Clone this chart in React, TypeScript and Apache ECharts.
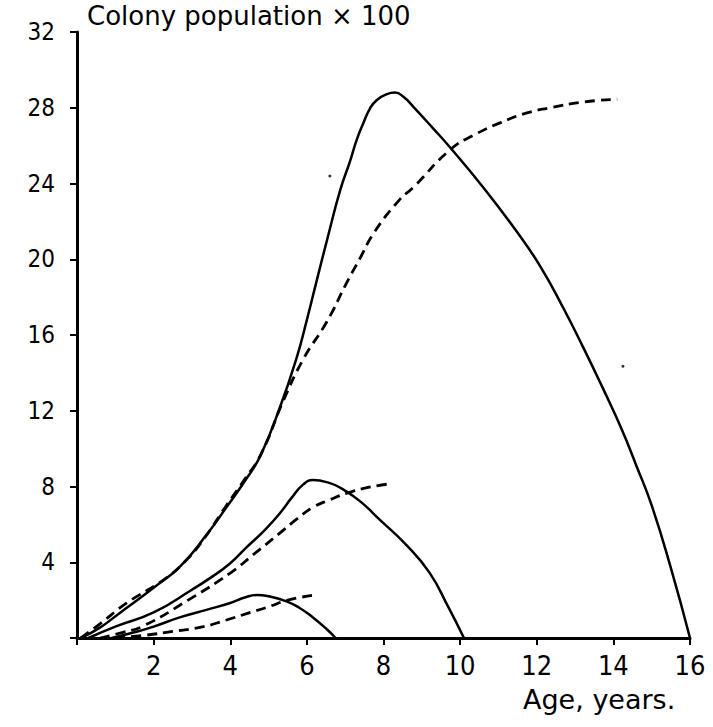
import React, { useEffect, useRef } from "react";
import * as echarts from "echarts";

const xTicks = [0, 2, 4, 6, 8, 10, 12, 14, 16];
const yTicks = [0, 4, 8, 12, 16, 20, 24, 28, 32];

const bigSolid: [number, number][] = [
  [0.1, 0], [0.6, 0.55], [1.1, 1.3], [2.0, 2.65], [2.7, 3.8], [3.4, 5.5], [3.9, 6.9],
  [4.35, 8.2], [4.78, 9.6], [5.3, 12.2], [5.74, 14.85], [6.0, 16.8], [6.26, 18.9],
  [6.55, 21.2], [6.87, 23.65], [7.13, 25.2], [7.3, 26.3], [7.47, 27.17], [7.65, 27.97],
  [7.82, 28.4], [8.09, 28.72], [8.3, 28.8], [8.52, 28.58], [8.78, 28.05], [9.3, 26.9],
  [9.74, 25.9], [10.6, 23.8], [11.5, 21.4], [12.1, 19.6], [12.7, 17.4], [13.2, 15.4],
  [13.7, 13.3], [14.2, 11.1], [14.6, 9.1], [15.0, 7.0], [15.5, 3.7], [16.0, 0],
];

const bigDashed: [number, number][] = [
  [0.1, 0], [0.6, 0.75], [1.3, 1.85], [2.25, 3.06], [2.8, 4.0], [3.3, 5.2], [3.9, 7.0],
  [4.35, 8.3], [4.8, 9.7], [5.38, 12.5], [5.9, 14.7], [6.52, 16.7], [7.05, 18.8],
  [7.4, 20.1], [7.75, 21.4], [8.4, 23.1], [8.78, 23.8], [9.75, 25.8], [10.4, 26.6],
  [11.04, 27.2], [11.7, 27.7], [12.35, 28.0], [13.2, 28.3], [14.1, 28.45],
];

const midSolid: [number, number][] = [
  [0.3, 0], [1.0, 0.6], [2.0, 1.35], [3.0, 2.55], [3.5, 3.2], [4.0, 3.95], [4.43, 4.8],
  [4.9, 5.7], [5.3, 6.6], [5.6, 7.4], [5.9, 8.1], [6.16, 8.34], [6.6, 8.18], [6.9, 7.9],
  [7.4, 7.2], [7.9, 6.25], [8.6, 4.9], [9.2, 3.45], [9.7, 1.6], [10.1, 0],
];

const midDashed: [number, number][] = [
  [0.6, 0], [1.2, 0.3], [1.7, 0.6], [2.9, 2.0], [4.0, 3.43], [4.6, 4.4], [5.3, 5.55],
  [5.75, 6.3], [6.16, 6.9], [6.6, 7.3], [7.05, 7.65], [7.6, 7.95], [8.2, 8.15],
];

const smallSolid: [number, number][] = [
  [0.9, 0], [1.5, 0.3], [2.0, 0.6], [2.7, 1.1], [3.4, 1.5], [4.0, 1.85], [4.4, 2.15],
  [4.7, 2.27], [5.0, 2.2], [5.45, 1.95], [5.8, 1.6], [6.15, 1.1], [6.5, 0.5], [6.75, 0],
];

const smallDashed: [number, number][] = [
  [1.0, 0], [1.8, 0.15], [2.5, 0.35], [3.3, 0.6], [3.9, 0.95], [4.45, 1.3], [5.0, 1.65],
  [5.5, 2.0], [6.15, 2.25],
];

const specks: [number, number][] = [
  [6.6, 24.4], [14.25, 14.35],
];

const FONT_Y = "'DejaVu Sans Condensed', 'DejaVu Sans', sans-serif";
const FONT_X = "'Liberation Sans Narrow', 'DejaVu Sans Condensed', sans-serif";
const FONT_T = "'DejaVu Sans', sans-serif";

export default function App() {
  const ref = useRef<HTMLDivElement>(null);
  useEffect(() => {
    if (!ref.current) return;
    const chart = echarts.init(ref.current, undefined, { renderer: "svg" });
    const solid = (data: [number, number][]) => ({
      type: "line",
      data,
      smooth: 0.5,
      symbol: "none",
      lineStyle: { color: "#000", width: 2.5 },
    });
    const dashed = (data: [number, number][]) => ({
      type: "line",
      data,
      smooth: 0.5,
      symbol: "none",
      lineStyle: { color: "#000", width: 2.8, type: [10, 6] },
    });
    chart.setOption({
      animation: false,
      backgroundColor: "#fff",
      grid: { left: 77, right: 23, top: 32, bottom: 89, containLabel: false },
      xAxis: {
        type: "value",
        min: 0,
        max: 16,
        interval: 2,
        axisLine: { show: true, lineStyle: { color: "#000", width: 3 } },
        axisTick: { show: true, length: 7, lineStyle: { color: "#000", width: 2 } },
        splitLine: { show: false },
        axisLabel: {
          color: "#000",
          fontFamily: FONT_X,
          fontSize: 27,
          margin: 14,
          formatter: (v: number) => (v === 0 ? "" : String(v)),
        },
      },
      yAxis: {
        type: "value",
        min: 0,
        max: 32,
        interval: 4,
        axisLine: { show: true, lineStyle: { color: "#000", width: 3 } },
        axisTick: { show: true, length: 7, lineStyle: { color: "#000", width: 2 } },
        splitLine: { show: false },
        axisLabel: {
          color: "#000",
          fontFamily: FONT_Y,
          fontSize: 24,
          margin: 22,
          formatter: (v: number) => (v === 0 ? "" : String(v)),
        },
      },
      graphic: [
        {
          type: "text",
          left: 87,
          top: 3,
          style: { text: "Colony population × 100", fontFamily: FONT_T, fontSize: 26, fill: "#000" },
        },
        {
          type: "text",
          left: 523,
          top: 686,
          style: { text: "Age, years.", fontFamily: FONT_T, fontSize: 27, fill: "#000" },
        },
      ],
      series: [
        solid(bigSolid),
        dashed(bigDashed),
        solid(midSolid),
        dashed(midDashed),
        solid(smallSolid),
        dashed(smallDashed),
        {
          type: "scatter",
          data: specks,
          symbolSize: 3,
          itemStyle: { color: "#000" },
        },
      ],
    });
    return () => chart.dispose();
  }, []);
  return (
    <div
      ref={ref}
      style={{ position: "absolute", left: 0, top: 0, width: 713, height: 727, background: "#fff" }}
    />
  );
}
